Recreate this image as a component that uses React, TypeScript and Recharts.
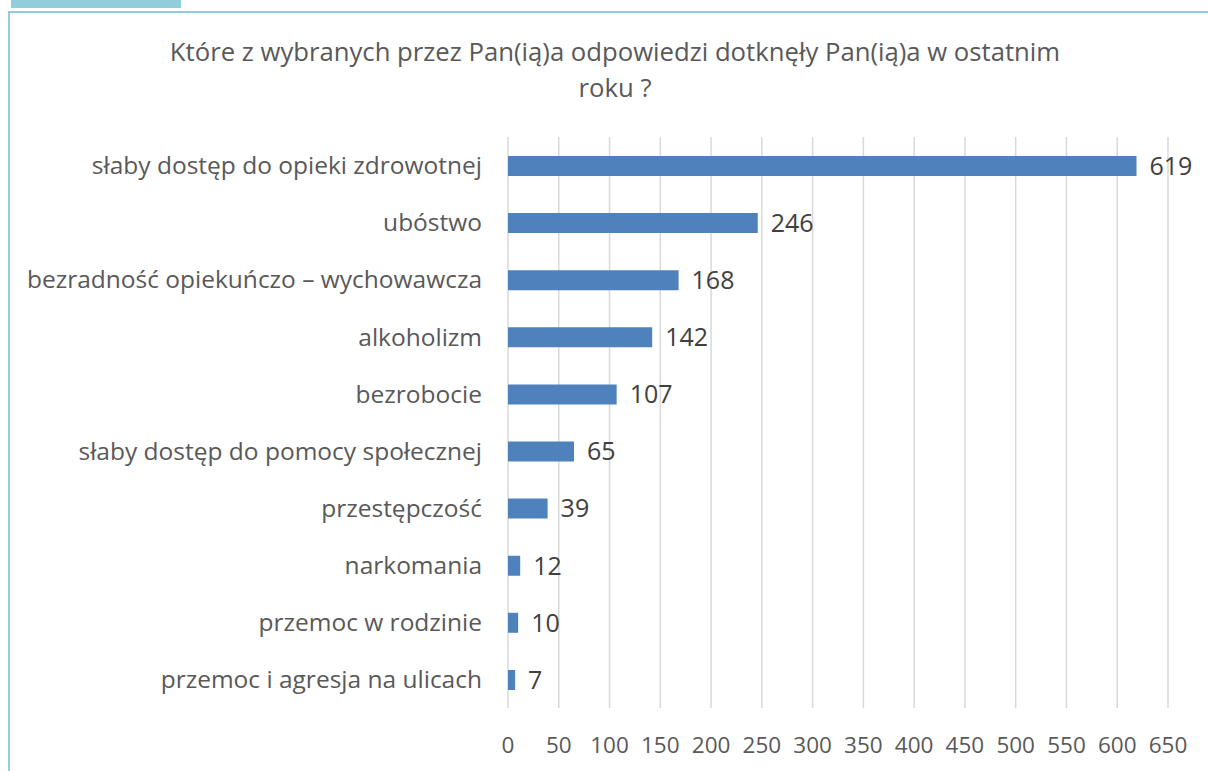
import React from 'react';
import { BarChart, Bar, XAxis, YAxis, CartesianGrid, LabelList } from 'recharts';

const categories = [
  'słaby dostęp do opieki zdrowotnej',
  'ubóstwo',
  'bezradność opiekuńczo – wychowawcza',
  'alkoholizm',
  'bezrobocie',
  'słaby dostęp do pomocy społecznej',
  'przestępczość',
  'narkomania',
  'przemoc w rodzinie',
  'przemoc i agresja na ulicach',
];
const values = [619, 246, 168, 142, 107, 65, 39, 12, 10, 7];
const xTicks = [0, 50, 100, 150, 200, 250, 300, 350, 400, 450, 500, 550, 600, 650];
const titleLines = ['Które z wybranych przez Pan(ią)a odpowiedzi dotknęły Pan(ią)a w ostatnim', 'roku ?'];

const data = categories.map((name, i) => ({ name, value: values[i] }));

const FONT = '"Open Sans", sans-serif';

export default function App() {
  return (
    <div style={{ position: 'absolute', left: 0, top: 0, width: 1208, height: 771, background: '#fff', overflow: 'hidden', fontFamily: FONT }}>
      <div style={{ position: 'absolute', left: 11, top: 0, width: 170, height: 8, background: '#92cddc' }} />
      <div style={{ position: 'absolute', left: 8, top: 11, width: 1400, height: 1000, borderLeft: '2px solid #92cddc', borderTop: '2px solid #92cddc' }} />
      <div style={{ position: 'absolute', left: 0, top: 0 }}>
        <BarChart
          width={1208}
          height={771}
          data={data}
          layout="vertical"
          margin={{ top: 137, right: 40, bottom: 13, left: 0 }}
          barCategoryGap={0}
        >
          <text x={615} y={61} textAnchor="middle" fontSize={25.7} fill="#595959" fontFamily={FONT}>{titleLines[0]}</text>
          <text x={615} y={97} textAnchor="middle" fontSize={25.7} fill="#595959" fontFamily={FONT}>{titleLines[1]}</text>
          <CartesianGrid horizontal={false} vertical={true} stroke="#d9d9d9" strokeWidth={1.5} />
          <XAxis
            type="number"
            domain={[0, 650]}
            ticks={xTicks}
            interval={0}
            axisLine={false}
            tickLine={false}
            tickSize={0}
            tickMargin={29}
            height={50}
            tick={{ fontSize: 22.5, fill: '#595959', fontFamily: FONT }}
          />
          <YAxis
            type="category"
            dataKey="name"
            width={508}
            axisLine={false}
            tickLine={false}
            tickSize={0}
            tickMargin={26}
            interval={0}
            tick={{ fontSize: 24.5, fill: '#595959', fontFamily: FONT }}
          />
          <Bar dataKey="value" fill="#4f81bd" barSize={20} isAnimationActive={false}>
            <LabelList dataKey="value" position="right" offset={13} fill="#404040" fontSize={25} fontFamily={FONT} />
          </Bar>
        </BarChart>
      </div>
    </div>
  );
}
